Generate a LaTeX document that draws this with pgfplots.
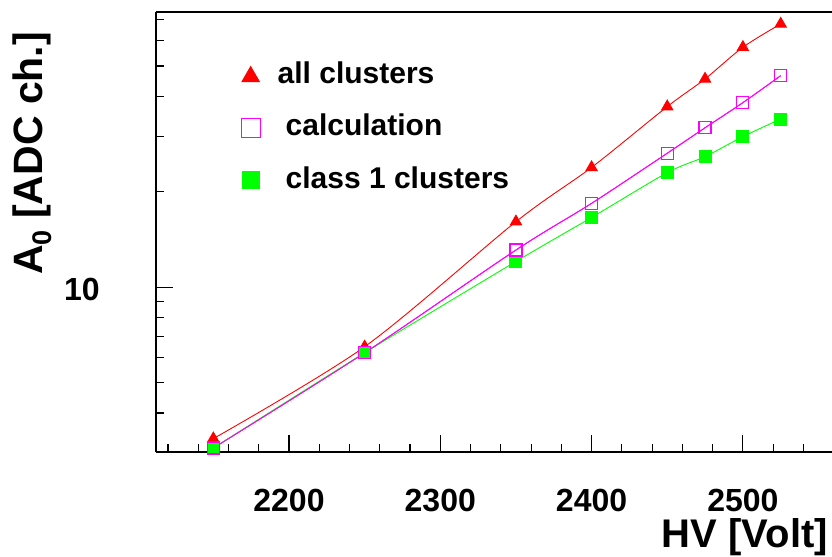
\documentclass[border=0pt]{standalone}
\usepackage{fontspec}
\setmainfont{Liberation Sans}
\usepackage{pgfplots}
\pgfplotsset{compat=1.18}
\definecolor{rootred}{RGB}{255,0,0}
\definecolor{rootmag}{RGB}{255,0,255}
\definecolor{rootgreen}{RGB}{0,255,0}
\begin{document}
\begin{tikzpicture}
\path[use as bounding box] (-156bp,-105bp) rectangle (676bp,452bp);
\begin{axis}[
  at={(0,0)}, anchor=south west,
  scale only axis, width=676bp, height=440bp,
  xmin=2112.1, xmax=2558.9,
  ymode=log, ymin=3.012, ymax=74.07,
  axis x line*=bottom, axis y line*=left,
  axis line style={line width=1.6bp, -},
  tick align=inside,
  xtick={2200,2300,2400,2500},
  xticklabels={2200,2300,2400,2500},
  minor xtick={2120,2140,2160,2180,2220,2240,2260,2280,2320,2340,2360,2380,2420,2440,2460,2480,2520,2540},
  ytick={10}, yticklabels={10},
  minor ytick={4,5,6,7,8,9,20,30,40,50,60,70},
  major tick length=17bp, minor tick length=8.5bp,
  every tick/.style={line width=1.1bp, black},
  xticklabel style={font=\fontsize{32bp}{36bp}\selectfont\bfseries, anchor=base, inner sep=0pt, yshift=-59bp},
  yticklabel style={font=\fontsize{32bp}{36bp}\selectfont\bfseries, anchor=base east, inner sep=0pt, xshift=-56bp, yshift=-13.4bp},
  xlabel={HV [Volt]},
  ylabel={A\raisebox{-0.22em}{\fontsize{27bp}{27bp}\selectfont 0} [ADC ch.]},
  every axis x label/.style={at={(axis description cs:0.9941,-0.2136)}, anchor=base east, font=\fontsize{40bp}{46bp}\selectfont\bfseries, inner sep=0pt, yshift=-2bp},
  every axis y label/.style={at={(axis description cs:-0.1686,0.955)}, anchor=base east, rotate=90, font=\fontsize{41bp}{46bp}\selectfont\bfseries, inner sep=0pt},
  legend cell align=left,
  legend style={at={(axis description cs:0.1257,0.888)}, anchor=north west, draw=none, fill=none,
    font=\fontsize{30bp}{34bp}\selectfont\bfseries, row sep=28.75bp, inner sep=0pt,
    nodes={inner sep=0pt},
    /tikz/every odd column/.append style={column sep=25.5bp}},
]
\addplot[color=rootred, line width=0.9bp, smooth, mark=triangle*, mark size=6.5bp, mark options={solid, fill=rootred},
  legend image code/.code={\draw[color=rootred, fill=rootred, mark=triangle*, mark size=10bp] plot coordinates {(0bp,-3.5bp)};}]
coordinates {(2150,3.32) (2250,6.48) (2350,16.1) (2400,23.9) (2450,37.2) (2475,45.5) (2500,57.3) (2525,67.9)};
\addlegendentry{\hspace*{-8bp}all clusters}
\addplot[color=rootmag, line width=0.9bp, smooth, mark=square, mark size=6bp, mark options={solid, line width=1.2bp},
  legend image code/.code={\draw[color=rootmag, line width=1.2bp, mark=square, mark size=9.5bp] plot coordinates {(0bp,-3bp)};}]
coordinates {(2150,3.10) (2250,6.20) (2350,13.1) (2400,18.4) (2450,26.5) (2475,31.9) (2500,38.3) (2525,46.6)};
\addlegendentry{calculation}
\addplot[color=rootgreen, line width=0.9bp, smooth, mark=square*, mark size=6bp, mark options={solid, fill=rootgreen},
  legend image code/.code={\draw[color=rootgreen, fill=rootgreen, mark=square*, mark size=8.7bp] plot coordinates {(0bp,-2bp)};}]
coordinates {(2150,3.10) (2250,6.20) (2350,12.05) (2400,16.6) (2450,23.0) (2475,25.85) (2500,29.9) (2525,34.0)};
\addlegendentry{class 1 clusters}
\addplot[forget plot, color=rootmag, line width=0.9bp, smooth, mark=square, mark size=6bp, mark options={solid, line width=1.2bp}]
coordinates {(2150,3.10) (2250,6.20) (2350,13.1) (2400,18.4) (2450,26.5) (2475,31.9) (2500,38.3) (2525,46.6)};
\draw[line width=1.6bp] (rel axis cs:0,1) -- (rel axis cs:1,1);
\end{axis}
\end{tikzpicture}
\end{document}
